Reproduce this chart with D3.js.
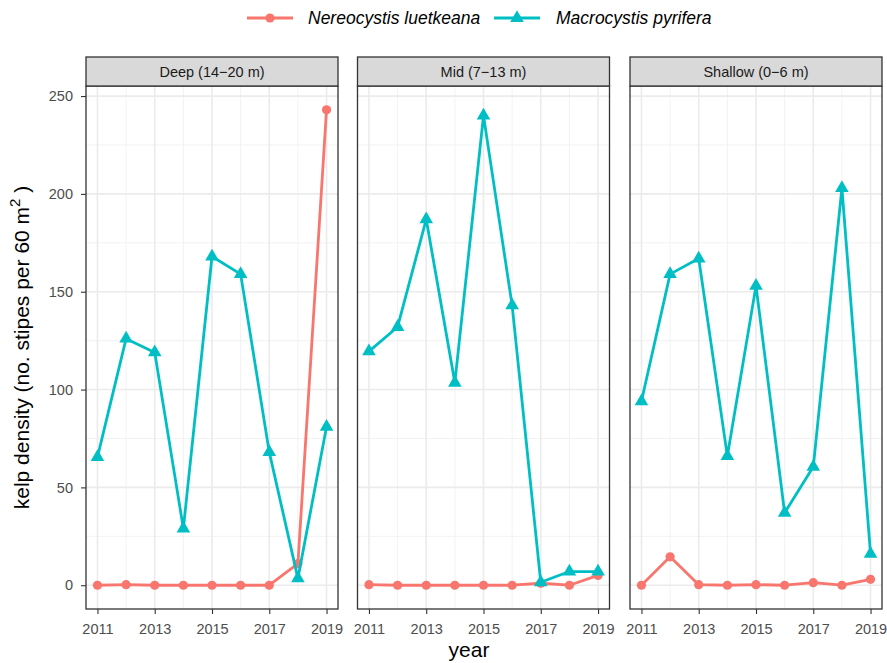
<!DOCTYPE html>
<html>
<head>
<meta charset="utf-8">
<script src="https://cdn.jsdelivr.net/npm/d3@7"></script>
<style>
  body { margin: 0; background: #fff; }
  svg { display: block; font-family: "Liberation Sans", Arial, sans-serif; }
</style>
</head>
<body>
<svg id="chart" width="887" height="663"></svg>
<script>
// Survey years and depth zones
const years = [2011, 2012, 2013, 2014, 2015, 2016, 2017, 2018, 2019];
const zones = ["Deep (14\u221220 m)", "Mid (7\u221213 m)", "Shallow (0\u22126 m)"];
const speciesNames = ["Nereocystis luetkeana", "Macrocystis pyrifera"];
const xTicks = [2011, 2013, 2015, 2017, 2019];
const yTicks = [0, 50, 100, 150, 200, 250];
const yMinor = [25, 75, 125, 175, 225];

// Stipe densities per zone (no. stipes per 60 m^2)
const nereoDeep    = [0, 0.3, 0, 0, 0, 0, 0, 11, 243];
const macroDeep    = [65.5, 126, 119, 29, 168, 159, 68, 3.5, 81];
const nereoMid     = [0.3, 0, 0, 0, 0, 0, 1, 0, 5];
const macroMid     = [119.5, 132, 187, 103.5, 240, 143, 1.5, 7, 7];
const nereoShallow = [0, 14.5, 0.3, 0, 0.3, 0, 1.3, 0, 3];
const macroShallow = [94, 159, 167, 66, 153, 37, 60.5, 203, 16];

const panelSeries = [
  [nereoDeep, macroDeep],
  [nereoMid, macroMid],
  [nereoShallow, macroShallow]
];
const colors = ["#F8766D", "#00BFC4"];

const svg = d3.select("#chart");

// Panel layout
const panelLefts = [86, 357.5, 630];
const panelW = 252;
const stripTop = 57, stripH = 29;
const panelTop = stripTop + stripH, panelBottom = 609;
const tickFont = 14.5;

// Scales with 5% expansion on both axes
const yMax = d3.max(panelSeries.flat(2));
const yPad = (yMax - 0) * 0.05;
const y = d3.scaleLinear().domain([0 - yPad, yMax + yPad]).range([panelBottom, panelTop]);
const xPad = (years[years.length - 1] - years[0]) * 0.05;

const triangle = d3.symbol().type(d3.symbolTriangle).size(80);

zones.forEach((zone, i) => {
  const left = panelLefts[i];
  const x = d3.scaleLinear()
    .domain([years[0] - xPad, years[years.length - 1] + xPad])
    .range([left, left + panelW]);

  const g = svg.append("g");

  // grid: minor
  g.selectAll(".ymin").data(yMinor).join("line")
    .attr("x1", left).attr("x2", left + panelW)
    .attr("y1", d => y(d)).attr("y2", d => y(d))
    .attr("stroke", "#F2F2F2").attr("stroke-width", 1);
  g.selectAll(".xmin").data(years.filter(v => !xTicks.includes(v))).join("line")
    .attr("y1", panelTop).attr("y2", panelBottom)
    .attr("x1", d => x(d)).attr("x2", d => x(d))
    .attr("stroke", "#F2F2F2").attr("stroke-width", 1);
  // grid: major
  g.selectAll(".ymaj").data(yTicks).join("line")
    .attr("x1", left).attr("x2", left + panelW)
    .attr("y1", d => y(d)).attr("y2", d => y(d))
    .attr("stroke", "#EBEBEB").attr("stroke-width", 1.6);
  g.selectAll(".xmaj").data(xTicks).join("line")
    .attr("y1", panelTop).attr("y2", panelBottom)
    .attr("x1", d => x(d)).attr("x2", d => x(d))
    .attr("stroke", "#EBEBEB").attr("stroke-width", 1.6);

  // series
  panelSeries[i].forEach((vals, s) => {
    const pts = years.map((yr, k) => [yr, vals[k]]);
    g.append("path")
      .datum(pts)
      .attr("fill", "none")
      .attr("stroke", colors[s])
      .attr("stroke-width", 2.8)
      .attr("stroke-linejoin", "round")
      .attr("d", d3.line().x(d => x(d[0])).y(d => y(d[1])));
    if (s === 0) {
      g.selectAll(null).data(pts).join("circle")
        .attr("cx", d => x(d[0])).attr("cy", d => y(d[1]))
        .attr("r", 4.6).attr("fill", colors[s]);
    } else {
      g.selectAll(null).data(pts).join("path")
        .attr("d", triangle)
        .attr("transform", d => `translate(${x(d[0])},${y(d[1])})`)
        .attr("fill", colors[s]);
    }
  });

  // panel border
  g.append("rect")
    .attr("x", left).attr("y", panelTop)
    .attr("width", panelW).attr("height", panelBottom - panelTop)
    .attr("fill", "none").attr("stroke", "#333333").attr("stroke-width", 1.3);

  // strip
  g.append("rect")
    .attr("x", left).attr("y", stripTop)
    .attr("width", panelW).attr("height", stripH)
    .attr("fill", "#D9D9D9").attr("stroke", "#333333").attr("stroke-width", 1.3);
  g.append("text")
    .attr("x", left + panelW / 2).attr("y", stripTop + stripH / 2 + 5)
    .attr("text-anchor", "middle")
    .attr("font-size", tickFont).attr("fill", "#1A1A1A")
    .text(zone);

  // x axis
  const xAxis = g.append("g")
    .attr("transform", `translate(0,${panelBottom})`)
    .call(d3.axisBottom(x).tickValues(xTicks).tickFormat(d3.format("d")).tickSize(5).tickPadding(9.5));
  xAxis.attr("font-size", tickFont).attr("font-family", "Liberation Sans, Arial, sans-serif");
  xAxis.select(".domain").remove();
  xAxis.selectAll(".tick line").attr("stroke", "#333333").attr("stroke-width", 1.1);
  xAxis.selectAll(".tick text").attr("fill", "#4D4D4D");

  // y axis only on first panel
  if (i === 0) {
    const yAxis = g.append("g")
      .attr("transform", `translate(${left},0)`)
      .call(d3.axisLeft(y).tickValues(yTicks).tickSize(5).tickPadding(8));
    yAxis.attr("font-size", tickFont).attr("font-family", "Liberation Sans, Arial, sans-serif");
    yAxis.select(".domain").remove();
    yAxis.selectAll(".tick line").attr("stroke", "#333333").attr("stroke-width", 1.1);
    yAxis.selectAll(".tick text").attr("fill", "#4D4D4D");
  }
});

// axis titles
svg.append("text")
  .attr("x", 469).attr("y", 657)
  .attr("text-anchor", "middle")
  .attr("font-size", 21).attr("fill", "#000")
  .text("year");

const yTitle = svg.append("text")
  .attr("transform", `translate(29,${(panelTop + panelBottom) / 2}) rotate(-90)`)
  .attr("text-anchor", "middle")
  .attr("font-size", 21).attr("fill", "#000");
yTitle.append("tspan").text("kelp density (no. stipes per 60 m");
yTitle.append("tspan").attr("dy", -9).attr("font-size", 15).text("2");
yTitle.append("tspan").attr("dy", 9).text(" )");

// legend
const legend = svg.append("g");
const legendItems = [
  { name: speciesNames[0], x: 247, tx: 308 },
  { name: speciesNames[1], x: 494, tx: 556 }
];
legendItems.forEach((it, s) => {
  legend.append("line")
    .attr("x1", it.x).attr("x2", it.x + 46)
    .attr("y1", 18).attr("y2", 18)
    .attr("stroke", colors[s]).attr("stroke-width", 2.8);
  if (s === 0) {
    legend.append("circle").attr("cx", it.x + 23).attr("cy", 18).attr("r", 4.6).attr("fill", colors[s]);
  } else {
    legend.append("path").attr("d", triangle)
      .attr("transform", `translate(${it.x + 23},18)`).attr("fill", colors[s]);
  }
  legend.append("text")
    .attr("x", it.tx).attr("y", 24)
    .attr("font-size", 17.5).attr("font-style", "italic").attr("fill", "#000")
    .text(it.name);
});
</script>
</body>
</html>
